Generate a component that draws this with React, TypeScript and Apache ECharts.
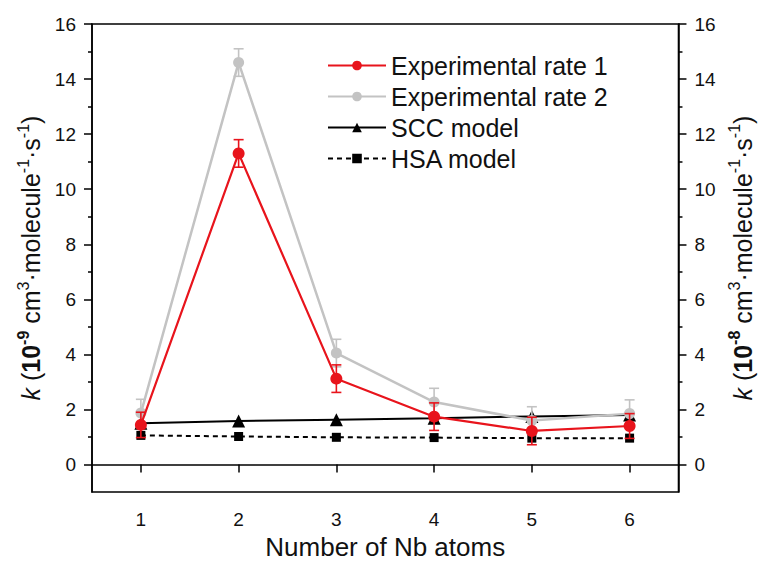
import React, { useEffect, useRef } from "react";
import * as echarts from "echarts";

const categories = ["1", "2", "3", "4", "5", "6"];
const rate1 = [1.44, 11.3, 3.12, 1.74, 1.22, 1.4];
const rate1Err = [0.46, 0.5, 0.5, 0.5, 0.5, 0.45];
const rate2 = [1.87, 14.6, 4.05, 2.27, 1.6, 1.85];
const rate2Err = [0.5, 0.5, 0.5, 0.5, 0.5, 0.5];
const scc = [1.5, 1.58, 1.63, 1.68, 1.75, 1.8];
const hsa = [1.06, 1.02, 0.99, 0.98, 0.96, 0.96];
const yMajorTicks = [0, 2, 4, 6, 8, 10, 12, 14, 16];
const yMinorTicks = [1, 3, 5, 7, 9, 11, 13, 15];

const RED = "#e8141c";
const GRAY = "#c3c3c3";
const BLACK = "#000000";
const TXT = "#111111";
const FONT = "Liberation Sans, Arial, sans-serif";

function errorSeries(name: string, vals: number[], errs: number[], color: string, z: number) {
  return {
    type: "custom",
    name: name + "_err",
    z,
    silent: true,
    encode: { x: 0, y: 1 },
    data: vals.map((v, i) => [i, v, errs[i]]),
    renderItem: (params: any, api: any) => {
      const x = api.value(0);
      const v = api.value(1);
      const e = api.value(2);
      const hi = api.coord([x, v + e]);
      const lo = api.coord([x, v - e]);
      const hw = 5;
      const st = { stroke: color, lineWidth: 1.6 };
      return {
        type: "group",
        children: [
          { type: "line", shape: { x1: hi[0], y1: hi[1], x2: lo[0], y2: lo[1] }, style: st },
          { type: "line", shape: { x1: hi[0] - hw, y1: hi[1], x2: hi[0] + hw, y2: hi[1] }, style: st },
          { type: "line", shape: { x1: lo[0] - hw, y1: lo[1], x2: lo[0] + hw, y2: lo[1] }, style: st },
        ],
      };
    },
  };
}

function yTitle(exp: string) {
  return (
    "{i|k}{n| (}{b|10}{bs|" +
    exp +
    "}{n| cm}{s|3}{n|·molecule}{s|-1}{n|·s}{s|-1}{n|)}"
  );
}

const titleRich = {
  i: { fontStyle: "italic", fontSize: 25, lineHeight: 32, fontFamily: FONT, color: TXT },
  n: { fontSize: 25, lineHeight: 32, fontFamily: FONT, color: TXT },
  b: { fontSize: 25, fontWeight: "bold", lineHeight: 32, fontFamily: FONT, color: TXT },
  bs: { fontSize: 16, fontWeight: "bold", verticalAlign: "top", lineHeight: 18, fontFamily: FONT, color: TXT },
  s: { fontSize: 16, verticalAlign: "top", lineHeight: 18, fontFamily: FONT, color: TXT },
};

function yAxes(position: "left" | "right", exp: string) {
  const major: any = {
    type: "value",
    position,
    min: -1,
    max: 16,
    name: yTitle(exp),
    nameLocation: "middle",
    nameRotate: 90,
    nameGap: position === "left" ? 40 : 17,
    nameTextStyle: { rich: titleRich },
    axisLine: { show: true, onZero: false, lineStyle: { color: BLACK, width: 1.5 } },
    axisTick: { show: true, inside: false, length: 8, customValues: yMajorTicks, lineStyle: { color: BLACK, width: 1.5 } },
    axisLabel: { show: true, customValues: yMajorTicks, margin: 16, fontSize: 19, color: TXT, fontFamily: FONT },
    splitLine: { show: false },
  };
  const minor: any = {
    type: "value",
    position,
    min: -1,
    max: 16,
    axisLine: { show: false },
    axisTick: { show: true, inside: false, length: 4, customValues: yMinorTicks, lineStyle: { color: BLACK, width: 1.5 } },
    axisLabel: { show: false },
    splitLine: { show: false },
  };
  return [major, minor];
}

export default function App() {
  const ref = useRef<HTMLDivElement>(null);
  useEffect(() => {
    if (!ref.current) return;
    const chart = echarts.init(ref.current, null, { renderer: "svg" });
    const option: any = {
      animation: false,
      backgroundColor: "#ffffff",
      textStyle: { fontFamily: FONT },
      grid: {
        left: 92,
        right: 763 - 685,
        top: 24,
        bottom: 565 - 500,
        show: true,
        borderColor: BLACK,
        borderWidth: 1.5,
        containLabel: false,
      },
      legend: {
        orient: "vertical",
        left: 322,
        top: 48,
        itemWidth: 58,
        itemHeight: 12,
        itemGap: 6,
        textStyle: { fontSize: 25, lineHeight: 25, color: TXT, fontFamily: FONT },
        data: ["Experimental rate 1", "Experimental rate 2", "SCC model", "HSA model"],
      },
      xAxis: {
        type: "category",
        data: categories,
        boundaryGap: true,
        name: "Number of Nb atoms",
        nameLocation: "middle",
        nameGap: 40,
        nameTextStyle: { fontSize: 26, color: TXT, fontFamily: FONT },
        axisLine: { show: true, lineStyle: { color: BLACK, width: 1.5 } },
        axisTick: { show: true, alignWithLabel: true, length: 8, lineStyle: { color: BLACK, width: 1.5 } },
        axisLabel: { margin: 18, fontSize: 19, color: TXT, fontFamily: FONT },
        splitLine: { show: false },
      },
      yAxis: [...yAxes("left", "-9"), ...yAxes("right", "-8")],
      series: [
        {
          name: "HSA model",
          type: "line",
          data: hsa,
          z: 2,
          symbol: "rect",
          symbolSize: 9,
          itemStyle: { color: BLACK },
          lineStyle: { color: BLACK, width: 2, type: [5, 4] },
        },
        {
          name: "SCC model",
          type: "line",
          data: scc,
          z: 3,
          symbol: "triangle",
          symbolSize: 13,
          itemStyle: { color: BLACK },
          lineStyle: { color: BLACK, width: 2 },
        },
        errorSeries("Experimental rate 2", rate2, rate2Err, GRAY, 4),
        {
          name: "Experimental rate 2",
          type: "line",
          data: rate2,
          z: 4,
          symbol: "circle",
          symbolSize: 11,
          itemStyle: { color: GRAY },
          lineStyle: { color: GRAY, width: 2.5 },
        },
        errorSeries("Experimental rate 1", rate1, rate1Err, RED, 5),
        {
          name: "Experimental rate 1",
          type: "line",
          data: rate1,
          z: 5,
          symbol: "circle",
          symbolSize: 12,
          itemStyle: { color: RED },
          lineStyle: { color: RED, width: 2.2 },
        },
      ],
    };
    chart.setOption(option);
    return () => chart.dispose();
  }, []);
  return <div ref={ref} style={{ width: 763, height: 565, position: "absolute", left: 0, top: 0 }} />;
}
